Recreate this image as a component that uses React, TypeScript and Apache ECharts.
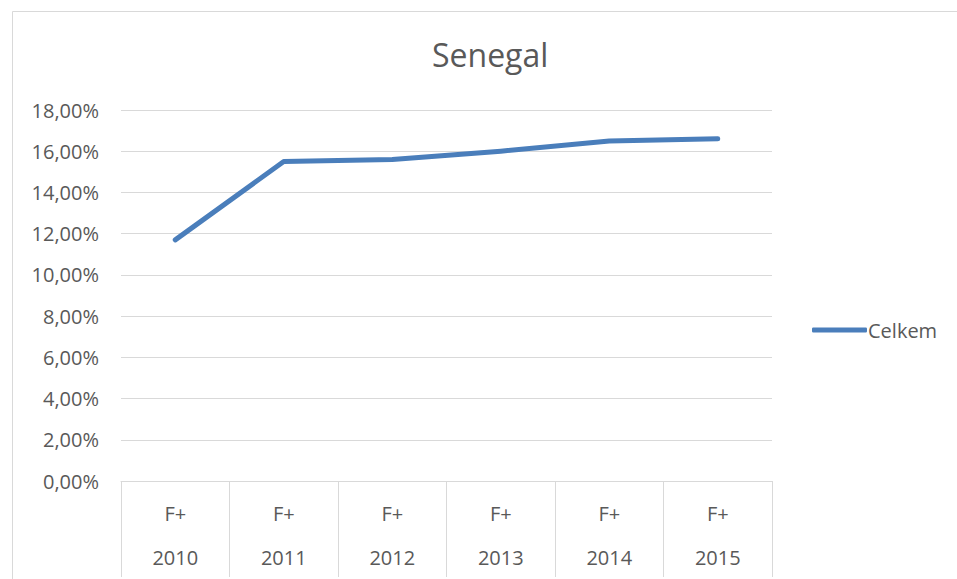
import React, { useEffect, useRef } from "react";
import * as echarts from "echarts";

const years = ["2010", "2011", "2012", "2013", "2014", "2015"];
const groups = ["F+", "F+", "F+", "F+", "F+", "F+"];
const celkem = [0.117, 0.155, 0.156, 0.16, 0.165, 0.166];
const seriesName = "Celkem";
const titleText = "Senegal";

export default function App() {
  const ref = useRef<HTMLDivElement>(null);
  useEffect(() => {
    const chart = echarts.init(ref.current!, null, { renderer: "svg" });
    const font = "Open Sans";
    const txt = "#595959";
    chart.setOption({
      animation: false,
      backgroundColor: "#ffffff",
      textStyle: { fontFamily: font },
      graphic: [
        {
          type: "rect",
          shape: { x: 12.5, y: 11.5, width: 960, height: 600 },
          style: { fill: "none", stroke: "#d9d9d9", lineWidth: 1 },
          silent: true,
        },
      ],
      title: {
        text: titleText,
        left: 427,
        top: 33,
        textStyle: { fontFamily: font, fontSize: 32, fontWeight: "normal", color: txt },
      },
      legend: {
        orient: "vertical",
        left: 812,
        top: 320,
        padding: 0,
        itemWidth: 55,
        itemHeight: 5,
        itemGap: 2,
        icon: "roundRect",
        data: [seriesName],
        textStyle: { fontFamily: font, fontSize: 20, color: txt, padding: [0, 0, 0, -4] },
      },
      grid: { left: 121, right: 185, top: 110, bottom: 98 },
      xAxis: [
        {
          type: "category",
          data: groups,
          position: "bottom",
          boundaryGap: true,
          axisLine: { show: true, lineStyle: { color: "#d9d9d9", width: 1 } },
          axisTick: { show: true, length: 96, interval: 0, lineStyle: { color: "#d9d9d9" } },
          axisLabel: { interval: 0, margin: 22, fontSize: 20, color: txt, fontFamily: font },
        },
        {
          type: "category",
          data: years,
          position: "bottom",
          offset: 44,
          boundaryGap: true,
          axisLine: { show: false },
          axisTick: { show: false },
          axisLabel: { interval: 0, margin: 22, fontSize: 20, color: txt, fontFamily: font },
        },
      ],
      yAxis: {
        type: "value",
        min: 0,
        max: 0.18,
        interval: 0.02,
        axisLine: { show: false },
        axisTick: { show: false },
        splitLine: { lineStyle: { color: "#d9d9d9", width: 1 } },
        axisLabel: {
          margin: 22,
          fontSize: 20,
          color: txt,
          fontFamily: font,
          formatter: (v: number) => (v * 100).toFixed(2).replace(".", ",") + "%",
        },
      },
      series: [
        {
          name: seriesName,
          type: "line",
          data: celkem,
          xAxisIndex: 0,
          symbol: "none",
          smooth: false,
          lineStyle: { color: "#4a7ebb", width: 5, cap: "round", join: "round" },
          itemStyle: { color: "#4a7ebb" },
        },
      ],
    });
    return () => chart.dispose();
  }, []);
  return (
    <div
      ref={ref}
      style={{ position: "fixed", left: 0, top: 0, width: 957, height: 579 }}
    />
  );
}
